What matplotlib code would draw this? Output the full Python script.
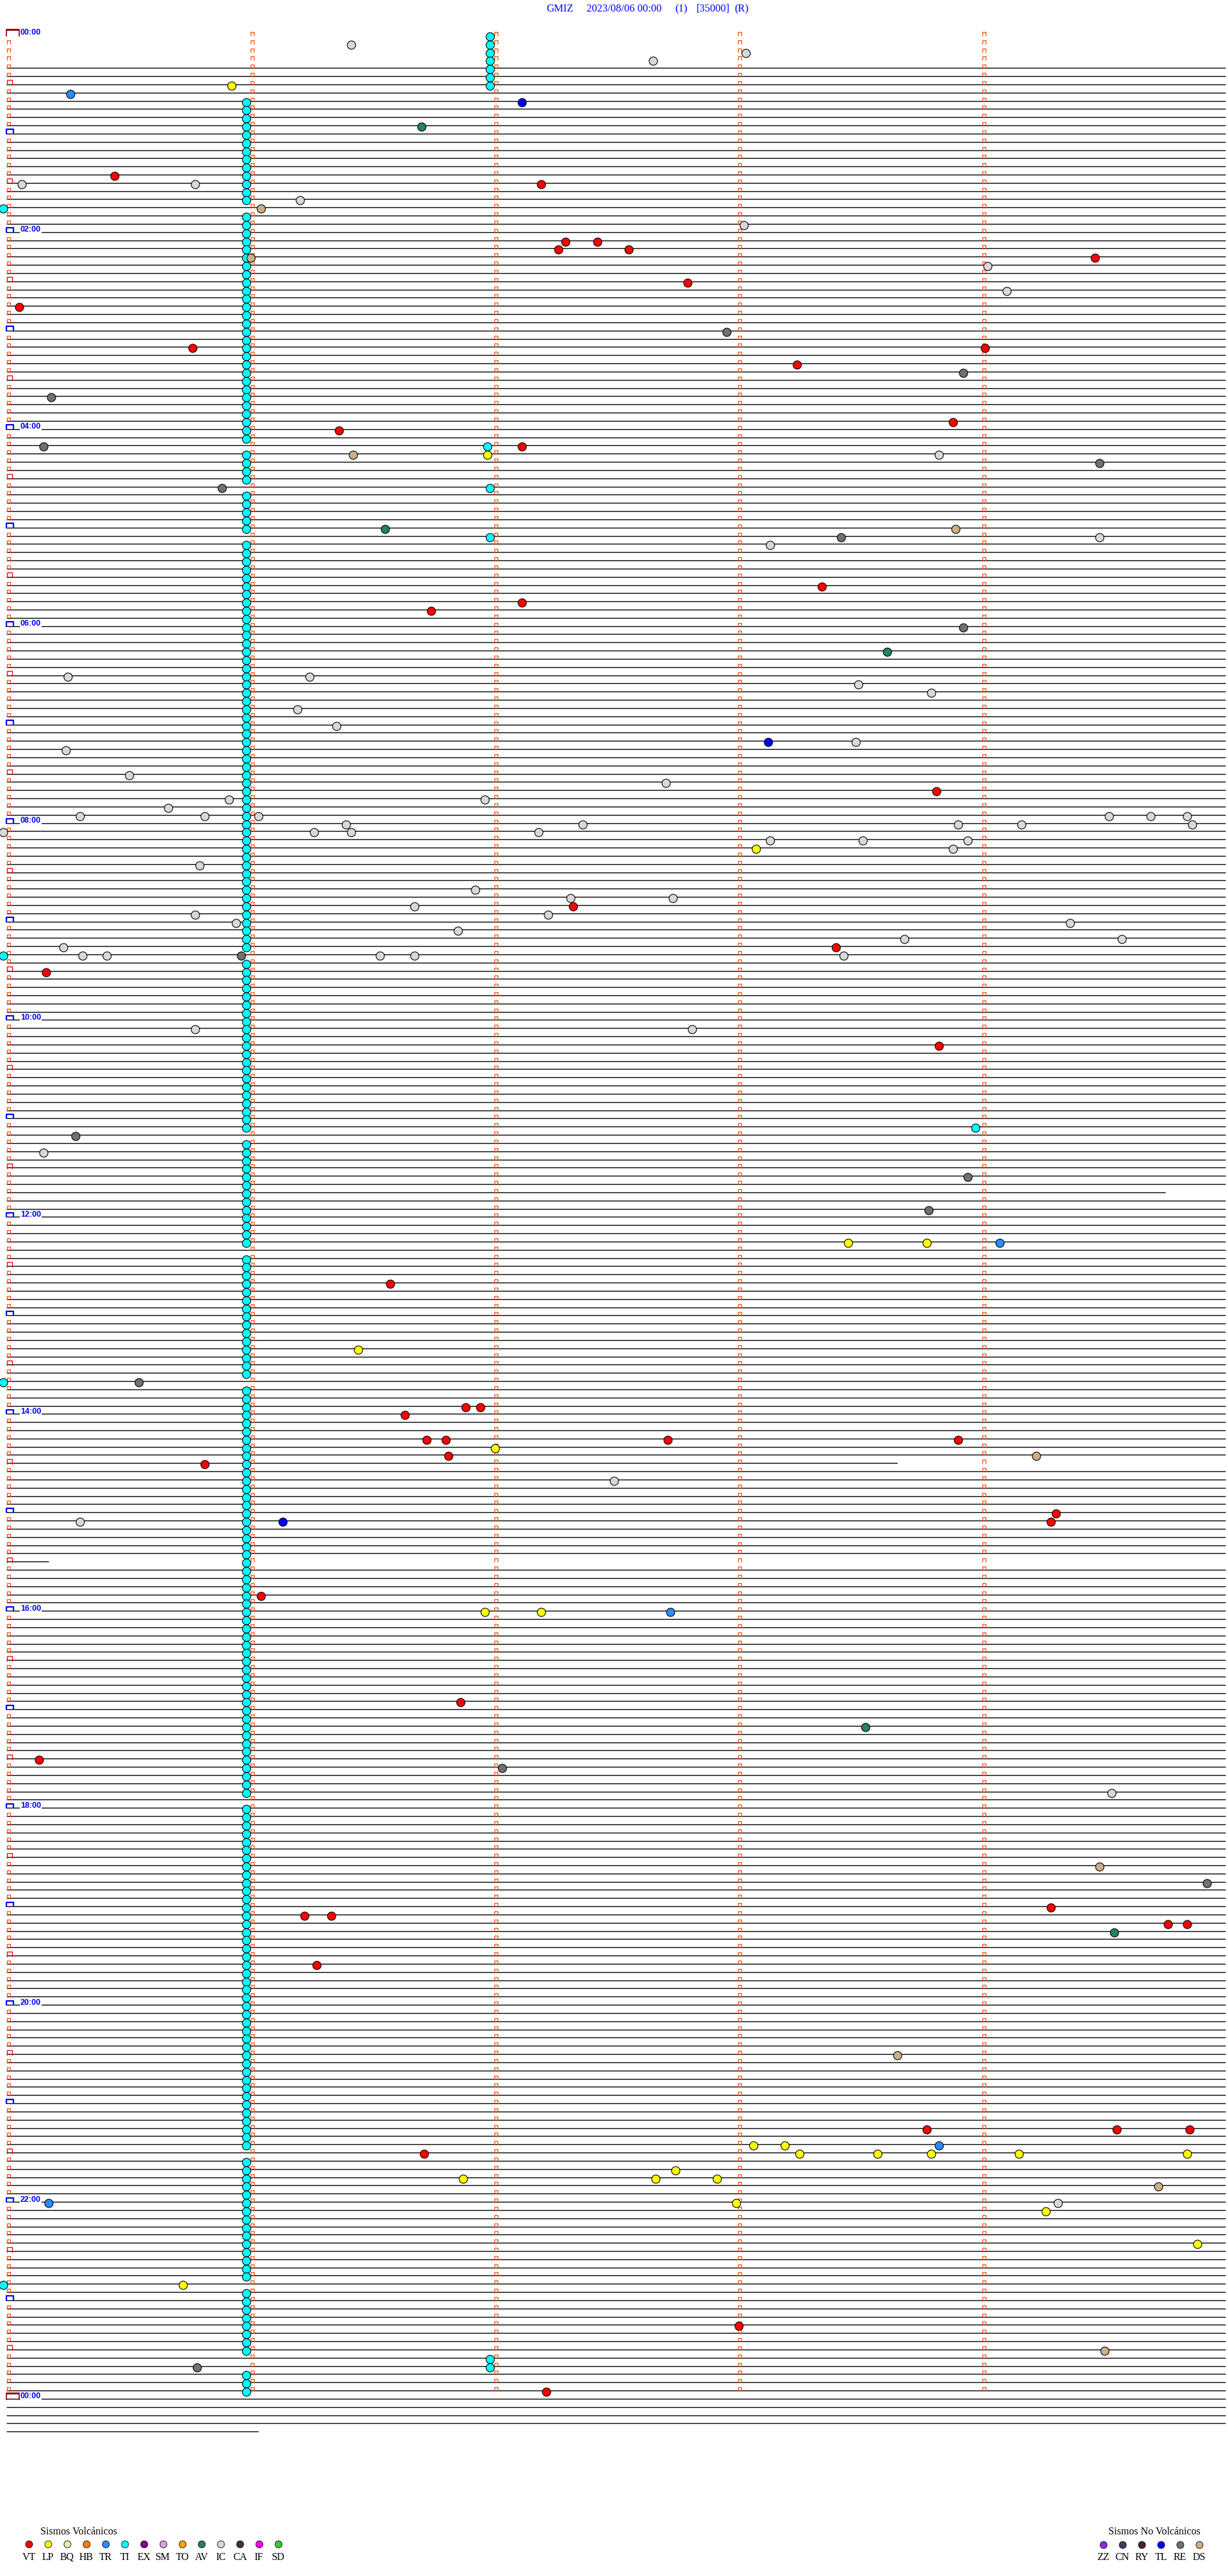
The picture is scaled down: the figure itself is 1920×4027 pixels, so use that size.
import matplotlib
matplotlib.use("Agg")
import matplotlib.pyplot as plt
from matplotlib.collections import LineCollection

# ---------------- data ----------------
station = "GMIZ"
date_label = "2023/08/06 00:00"
channel_label = "(1)"
scale_label = "[35000]"
mode_label = "(R)"
hour_labels = ["00:00", "02:00", "04:00", "06:00", "08:00", "10:00", "12:00",
               "14:00", "16:00", "18:00", "20:00", "22:00", "00:00"]
minutes_per_row = 5
n_mark_rows = 288            # rows carrying minute marks (00:00 .. 23:55)
first_trace_row = 4
last_trace_row = 292
trace_row_end = {141: 4.75, 174: 3.65, 186: 0.17, 292: 1.03}   # rows with a short trace (minute where it stops)

# TI (tremor) events repeating in a column: (first_row, last_row)
ti_runs_a = [(8, 20), (22, 49), (51, 54), (56, 60), (62, 111), (113, 133), (135, 147),
             (149, 163), (165, 214), (216, 257), (259, 273), (275, 282), (285, 287)]
ti_runs_a_min = 0.98
ti_runs_b = [(0, 6)]
ti_runs_b_min = 1.98

vt_rows = [17, 18, 25, 25, 26, 26, 27, 30, 33, 38, 38, 40, 47, 48, 50, 67, 69, 70, 92, 106, 111, 114,
           123, 152, 167, 167, 168, 171, 171, 171, 171, 173, 174, 180, 181, 190, 203, 210, 228, 229,
           229, 230, 230, 235, 255, 255, 255, 258, 279, 287]
vt_mins = [0.44, 2.19, 2.29, 2.42, 2.26, 2.55, 4.46, 2.79, 0.05, 0.76, 4.01, 3.24, 3.88, 1.36, 2.11,
           3.34, 2.11, 1.74, 3.81, 2.32, 3.40, 0.16, 3.82, 1.57, 1.88, 1.94, 1.63, 1.72, 1.80, 2.71,
           3.90, 1.81, 0.81, 4.30, 4.28, 1.04, 1.86, 0.13, 4.28, 1.22, 1.33, 4.76, 4.84, 1.27, 3.77,
           4.55, 4.85, 1.71, 3.00, 2.21]
lp_rows = [6, 51, 99, 147, 147, 160, 172, 192, 192, 257, 257, 258, 258, 258, 258, 258, 260, 261, 261,
           261, 264, 265, 269, 274]
lp_mins = [0.92, 1.97, 3.07, 3.45, 3.77, 1.44, 2.00, 1.96, 2.19, 3.06, 3.19, 3.25, 3.57, 3.79, 4.15,
           4.84, 2.74, 1.87, 2.66, 2.91, 2.99, 4.26, 4.88, 0.72]
tr_rows = [7, 147, 192, 257, 264]
tr_mins = [0.26, 4.07, 2.72, 3.82, 0.17]
ti_rows = [21, 50, 55, 61, 112, 133, 164, 274, 283, 284]
ti_mins = [-0.015, 1.97, 1.98, 1.98, -0.015, 3.97, -0.015, -0.015, 1.98, 1.98]
av_rows = [11, 60, 75, 206, 231]
av_mins = [1.70, 1.55, 3.61, 3.52, 4.54]
ic_rows = [1, 2, 3, 18, 18, 20, 23, 28, 31, 51, 61, 62, 78, 78, 79, 80, 82, 84, 86, 87, 90, 91, 93, 93,
           94, 95, 95, 95, 95, 95, 95, 96, 96, 96, 96, 96, 97, 97, 97, 97, 98, 98, 98, 99, 101, 104,
           105, 105, 106, 107, 107, 108, 109, 108, 110, 110, 111, 112, 112, 112, 112, 112, 121, 121,
           136, 176, 181, 214, 264]
ic_mins = [1.41, 3.03, 2.65, 0.77, 0.06, 1.20, 3.02, 4.02, 4.10, 3.82, 4.48, 3.13, 0.25, 1.24, 3.49,
           3.79, 1.19, 1.35, 3.48, 0.24, 0.50, 2.70, 0.91, 1.96, 0.66, 0.30, 0.81, 1.03, 4.52, 4.69,
           4.84, 1.39, 2.36, 3.90, 4.16, 4.86, -0.015, 1.26, 1.41, 2.18, 3.94, 3.13, 3.51, 3.88, 0.79,
           1.92, 2.31, 2.73, 1.67, 2.22, 0.77, 0.94, 1.85, 4.36, 3.68, 4.57, 0.23, 3.43, 0.31, 0.41,
           1.53, 1.67, 0.77, 2.81, 0.15, 2.49, 0.30, 4.53, 4.31]
tl_rows = [8, 86, 181]
tl_mins = [2.11, 3.12, 1.13]
re_rows = [36, 41, 44, 50, 52, 55, 61, 72, 112, 134, 139, 143, 164, 211, 225, 284]
re_mins = [2.95, 3.92, 0.18, 0.15, 4.48, 0.88, 3.42, 3.92, 0.96, 0.28, 3.94, 3.78, 0.54, 2.03, 4.92, 0.78]
ds_rows = [21, 27, 51, 60, 173, 223, 246, 262, 282]
ds_mins = [1.04, 1.00, 1.42, 3.89, 4.22, 4.48, 3.65, 4.72, 4.50]

volc_types = ["VT", "LP", "BQ", "HB", "TR", "TI", "EX", "SM", "TO", "AV", "IC", "CA", "IF", "SD"]
volc_colors = ["#FF0000", "#FFFF00", "#EEE8AA", "#FF8000", "#2B8CFF", "#00FFFF", "#880088", "#DDA0DD",
               "#FFA500", "#23806A", "#D8D8D8", "#4B2D4B", "#FF00FF", "#33CC33"]
nonvolc_types = ["ZZ", "CN", "RY", "TL", "RE", "DS"]
nonvolc_colors = ["#8A2BE2", "#4A3A5E", "#4A2040", "#0000FF", "#707070", "#CCAD85"]

# ---------------- layout ----------------
W, H = 1920, 4027
X0, PXM = 11.0, 381.3      # pixel of minute 0, pixels per minute
Y0, PXR = 54.9, 12.83      # pixel of row 0 line, pixels per row


def dx(px):
    return px / PXM


def dy(py):
    return py / PXR


def X(px):
    return (px - X0) / PXM


def Y(py):
    return (py - Y0) / PXR


plt.rcParams['font.family'] = ['Liberation Serif', 'DejaVu Serif']
fig = plt.figure(figsize=(W / 100, H / 100), dpi=100)
ax = fig.add_axes([0, 0, 1, 1])
ax.set_xlim(X(0), X(W))
ax.set_ylim(Y(H), Y(0))
ax.axis('off')

# trace lines
segs = []
for r in range(first_trace_row, last_trace_row + 1):
    end = trace_row_end.get(r, 4.995)
    segs.append([(-0.003, r), (end, r)])
lc = LineCollection(segs, colors='black', linewidths=1.0, zorder=1)
lc.set_snap(True)
ax.add_collection(lc)

# minute marks
small = []
for r in range(n_mark_rows):
    cols = [1, 2, 3, 4]
    if r % 6 != 0:
        cols = [0] + cols
    for k in cols:
        cx = k + dx(2.0)
        small.append([(cx - dx(2.5), r + dy(1)), (cx - dx(2.5), r - dy(5)),
                      (cx + dx(2.5), r - dy(5)), (cx + dx(2.5), r + dy(1))])
ax.add_collection(LineCollection(small, colors='#FF4800', linewidths=0.9, zorder=2))

hour_boxes, half_boxes, day_boxes = [], [], []
for r in range(0, n_mark_rows + 1, 6):
    if r % 288 == 0:
        day_boxes.append([(X(10), r + dy(2)), (X(10), r - dy(8.5)), (X(30), r - dy(8.5)), (X(30), r + dy(2))])
    elif r % 12 == 0:
        hour_boxes.append([(X(10), r + dy(1)), (X(10), r - dy(6.5)), (X(20.5), r - dy(6.5)), (X(20.5), r + dy(1))])
    else:
        half_boxes.append([(X(10.5), r + dy(1.5)), (X(10.5), r - dy(6.5)), (X(18.5), r - dy(6.5)), (X(18.5), r + dy(1.5))])
ax.add_collection(LineCollection(hour_boxes, colors='#0000FF', linewidths=1.6, zorder=3))
ax.add_collection(LineCollection(half_boxes, colors='#FF0000', linewidths=1.0, zorder=3))
ax.add_collection(LineCollection(day_boxes, colors='#8B0000', linewidths=1.2, zorder=3))
for b in day_boxes:
    ax.plot([b[1][0], b[2][0]], [b[1][1] + dy(0.8), b[2][1] + dy(0.8)], color='#8B0000', lw=1.6, zorder=3,
            solid_capstyle='butt')

for i, lab in enumerate(hour_labels):
    r = i * 24
    ax.text(X(32), r - dy(3.5), lab, color='#0000FF', fontsize=9, fontweight='bold',
            family=['Liberation Sans', 'DejaVu Sans'], ha='left', va='center', zorder=4,
            bbox=dict(facecolor='white', edgecolor='none', pad=0.6))

# events
ms = 13 * 0.72
off = dy(2)


def plot_events(rows, mins, color):
    ax.scatter(mins, [r + off for r in rows], s=ms ** 2, c=color, edgecolors='black',
               linewidths=0.8, zorder=5)


ti_col_rows = [r for a, b in ti_runs_a for r in range(a, b + 1)]
plot_events(ti_col_rows, [ti_runs_a_min] * len(ti_col_rows), '#00FFFF')
ti_col_rows_b = [r for a, b in ti_runs_b for r in range(a, b + 1)]
plot_events(ti_col_rows_b, [ti_runs_b_min] * len(ti_col_rows_b), '#00FFFF')
plot_events(ti_rows, ti_mins, '#00FFFF')
plot_events(ic_rows, ic_mins, '#D8D8D8')
plot_events(vt_rows, vt_mins, '#FF0000')
plot_events(lp_rows, lp_mins, '#FFFF00')
plot_events(tr_rows, tr_mins, '#2B8CFF')
plot_events(av_rows, av_mins, '#23806A')
plot_events(tl_rows, tl_mins, '#0000FF')
plot_events(re_rows, re_mins, '#707070')
plot_events(ds_rows, ds_mins, '#CCAD85')

# title
tkw = dict(color='#0000FF', fontsize=12, va='baseline', ha='left')
ax.text(X(854), Y(18.5), station, **tkw)
ax.text(X(917), Y(18.5), date_label, **tkw)
ax.text(X(1055), Y(18.5), channel_label, **tkw)
ax.text(X(1089), Y(18.5), scale_label, **tkw)
ax.text(X(1148), Y(18.5), mode_label, **tkw)

# legends
lkw = dict(color='black', fontsize=11.5, va='baseline')
ax.text(X(63), Y(3961.5), "Sismos Volcánicos", ha='left', **lkw)
for i, (t, c) in enumerate(zip(volc_types, volc_colors)):
    cx = X(45 + 30 * i)
    ax.scatter([cx], [Y(3977)], s=(11 * 0.72) ** 2, c=c, edgecolors='black', linewidths=0.6, zorder=5)
    ax.text(cx, Y(4001.5), t, ha='center', **lkw)
ax.text(X(1733), Y(3961.5), "Sismos No Volcánicos", ha='left', **lkw)
for i, (t, c) in enumerate(zip(nonvolc_types, nonvolc_colors)):
    cx = X(1725 + 30 * i)
    ax.scatter([cx], [Y(3978)], s=(11 * 0.72) ** 2, c=c, edgecolors='black', linewidths=0.6, zorder=5)
    ax.text(cx, Y(4001.5), t, ha='center', **lkw)

fig.savefig("out.png", dpi=100, facecolor='white')
